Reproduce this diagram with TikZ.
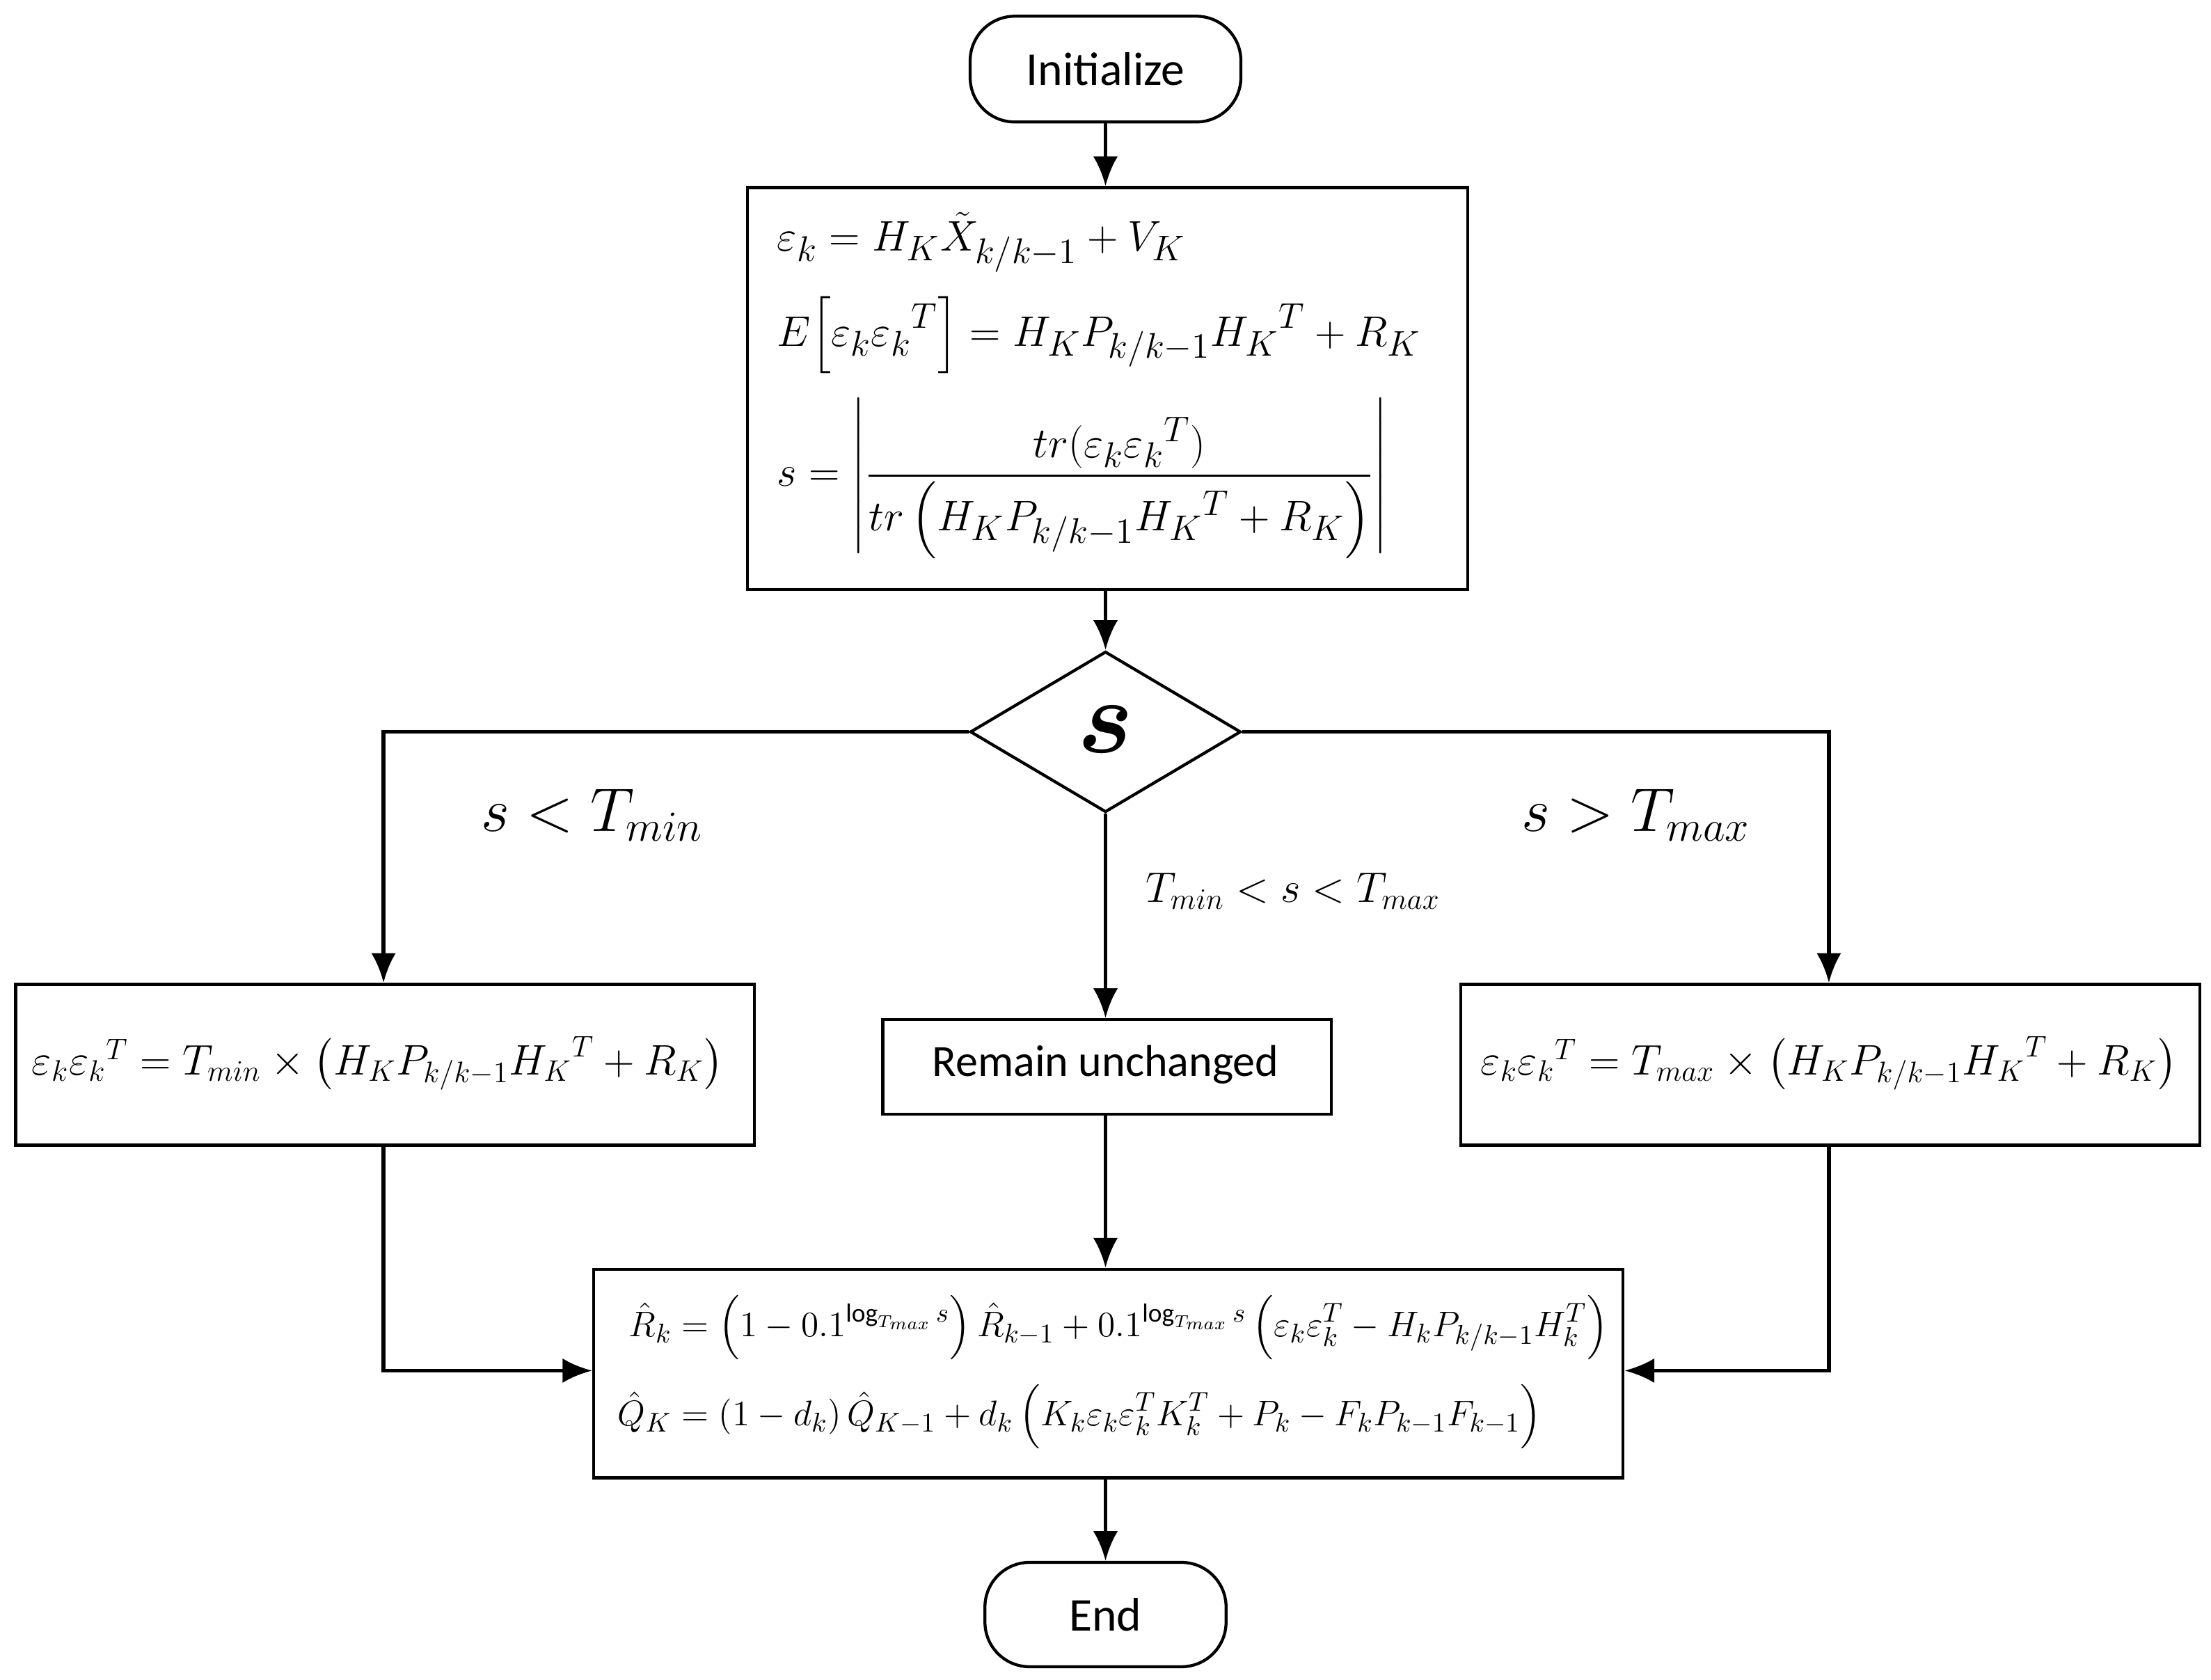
\documentclass[tikz,border=0pt]{standalone}
\usepackage{amsmath,bm}
\usepackage{fontspec}
\setmainfont{Carlito}
\usetikzlibrary{shapes.geometric,arrows.meta}
\begin{document}
\begin{tikzpicture}[x=0.02cm,y=-0.02cm,
  box/.style={draw,line width=1.2pt,inner sep=0pt,anchor=north west},
  term/.style={draw,line width=1.2pt,rounded corners=18pt},
  arr/.style={line width=1.6pt,-{Latex[length=12pt,width=10pt]}},
  every node/.style={font=\fontsize{17}{20}\selectfont}]
\useasboundingbox (0,0) rectangle (1568,1191);
\node[term,minimum width=192*0.02cm,minimum height=75*0.02cm] (init) at (784,49) {\fontsize{19}{22}\selectfont Initialize};
\node[box,minimum width=511*0.02cm,minimum height=285*0.02cm] (b1) at (529,132) {};
\node[anchor=west,align=left,font=\fontsize{19}{23}\selectfont] (f1) at (545,273) {$\begin{aligned}
&\varepsilon_k = H_K\tilde X_{k/k-1}+V_K\\[6pt]
&E\!\left[\varepsilon_k{\varepsilon_k}^T\right]=H_KP_{k/k-1}{H_K}^T+R_K\\[6pt]
&s=\left|\dfrac{tr(\varepsilon_k{\varepsilon_k}^T)}{tr\left(H_KP_{k/k-1}{H_K}^T+R_K\right)}\right|
\end{aligned}$};
\node[draw,line width=1.2pt,diamond,aspect=1.68,minimum width=192*0.02cm,minimum height=114*0.02cm,inner sep=0pt] (d) at (784,519) {};
\node[scale=1.7,transform shape] (dl) at (784,517) {\fontsize{24}{26}\selectfont$\bm{s}$};
\node[box,minimum width=524*0.02cm,minimum height=114*0.02cm] (L) at (10,697) {};
\node (lt) at (268,754) {\fontsize{18}{21}\selectfont$\varepsilon_k{\varepsilon_k}^T=T_{min}\times\left(H_KP_{k/k-1}{H_K}^T+R_K\right)$};
\node[box,minimum width=318*0.02cm,minimum height=67*0.02cm] (M) at (625,722) {};
\node (mt) at (784,755) {\fontsize{18}{21}\selectfont Remain unchanged};
\node[box,minimum width=524*0.02cm,minimum height=114*0.02cm] (R) at (1035,697) {};
\node (rt) at (1297,754) {\fontsize{17}{21}\selectfont$\varepsilon_k{\varepsilon_k}^T=T_{max}\times\left(H_KP_{k/k-1}{H_K}^T+R_K\right)$};
\node[box,minimum width=730*0.02cm,minimum height=148*0.02cm] (B) at (420,899) {};
\node[anchor=west,font=\fontsize{15}{18}\selectfont] (bt) at (432,973) {$\begin{aligned}
\hat R_k&=\left(1-0.1^{\log_{T_{max}}s}\right)\hat R_{k-1}+0.1^{\log_{T_{max}}s}\left(\varepsilon_k\varepsilon_k^T-H_kP_{k/k-1}H_k^T\right)\\[6pt]
\hat Q_K&=\left(1-d_k\right)\hat Q_{K-1}+d_k\left(K_k\varepsilon_k\varepsilon_k^TK_k^T+P_k-F_kP_{k-1}F_{k-1}\right)
\end{aligned}$};
\node[term,minimum width=171*0.02cm,minimum height=74*0.02cm] (end) at (784,1145) {\fontsize{19}{22}\selectfont End};
\node (l1) at (420,578) {\fontsize{24}{28}\selectfont$s<T_{min}$};
\node (l2) at (1160,578) {\fontsize{24}{28}\selectfont$s>T_{max}$};
\node (l3) at (917,632) {\fontsize{18}{21}\selectfont$T_{min}<s<T_{max}$};
\coordinate (ld) at (272,519); \coordinate (rd) at (1297,519);
\coordinate (lb) at (272,972); \coordinate (rb) at (1297,972);
\draw[arr] (init) -- (b1.north -| init);
\draw[arr] (b1.south -| d) -- (d.north);
\draw[arr] (d.west) -- (ld) -- (L.north -| ld);
\draw[arr] (d.east) -- (rd) -- (R.north -| rd);
\draw[arr] (d.south) -- (M.north -| d);
\draw[arr] (M.south -| d) -- (B.north -| d);
\draw[arr] (L.south -| lb) -- (lb) -- (B.west |- lb);
\draw[arr] (R.south -| rb) -- (rb) -- (B.east |- rb);
\draw[arr] (B.south -| end) -- (end);
\end{tikzpicture}
\end{document}
